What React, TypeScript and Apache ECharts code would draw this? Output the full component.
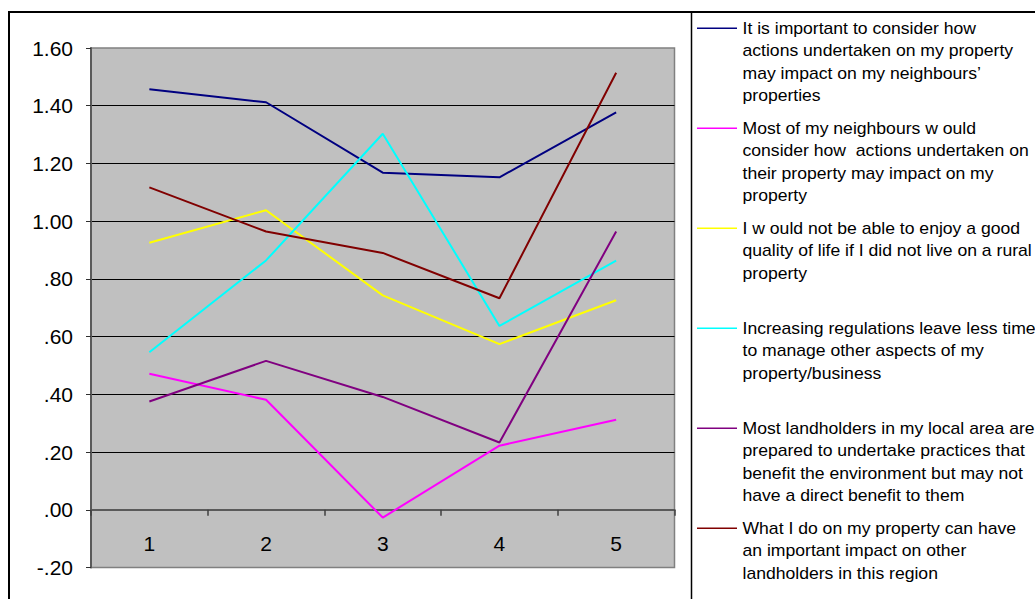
import React, { useEffect, useRef } from "react";
import * as echarts from "echarts";

// Survey statements: mean scores for each of the five groups
const categories = ["1", "2", "3", "4", "5"];

const seriesNames = [
  "It is important to consider how actions undertaken on my property may impact on my neighbours’ properties",
  "Most of my neighbours w ould consider how actions undertaken on their property may impact on my property",
  "I w ould not be able to enjoy a good quality of life if I did not live on a rural property",
  "Increasing regulations leave less time to manage other aspects of my property/business",
  "Most landholders in my local area are prepared to undertake practices that benefit the environment but may not have a direct benefit to them",
  "What I do on my property can have an important impact on other landholders in this region",
];

// Legend wording, broken into the lines that are drawn
const legendLines = [
  ["It is important to consider how", "actions undertaken on my property", "may impact on my neighbours’", "properties"],
  ["Most of my neighbours w ould", "consider how  actions undertaken on", "their property may impact on my", "property"],
  ["I w ould not be able to enjoy a good", "quality of life if I did not live on a rural", "property"],
  ["Increasing regulations leave less time", "to manage other aspects of my", "property/business"],
  ["Most landholders in my local area are", "prepared to undertake practices that", "benefit the environment but may not", "have a direct benefit to them"],
  ["What I do on my property can have", "an important impact on other", "landholders in this region"],
];

const considerImpactOnNeighbours = [1.457, 1.412, 1.168, 1.152, 1.377];
const neighboursConsiderImpact = [0.471, 0.381, -0.027, 0.222, 0.312];
const ruralQualityOfLife = [0.925, 1.038, 0.743, 0.574, 0.726];
const regulationsLeaveLessTime = [0.546, 0.864, 1.303, 0.637, 0.863];
const landholdersPreparedPractices = [0.375, 0.516, 0.391, 0.233, 0.964];
const importantImpactOnRegion = [1.117, 0.964, 0.89, 0.733, 1.514];

const seriesValues = [
  considerImpactOnNeighbours,
  neighboursConsiderImpact,
  ruralQualityOfLife,
  regulationsLeaveLessTime,
  landholdersPreparedPractices,
  importantImpactOnRegion,
];

const seriesColors = ["#000080", "#FF00FF", "#FFFF00", "#00FFFF", "#800080", "#800000"];

const FONT = "'Liberation Sans', Arial, Helvetica, sans-serif";

function formatTick(v: number): string {
  const r = Math.round(v * 100) / 100;
  let s = Math.abs(r).toFixed(2);
  if (s.startsWith("0")) s = s.slice(1);
  return r < 0 ? "-" + s : s;
}

export default function App() {
  const ref = useRef<HTMLDivElement>(null);

  useEffect(() => {
    document.body.style.margin = "0";
    if (!ref.current) return;
    const chart = echarts.init(ref.current, null, { renderer: "svg" });

    const legendGraphics: any[] = [];
    legendLines.forEach((lines, i) => {
      const y0 = 28.3 + i * 100;
      legendGraphics.push({
        type: "line",
        shape: { x1: 697, y1: y0, x2: 737, y2: y0 },
        style: { stroke: seriesColors[i], lineWidth: 1.5 },
        z: 10,
      });
      lines.forEach((line, k) => {
        legendGraphics.push({
          type: "text",
          x: 742.5,
          y: y0 + k * 22.6,
          scaleX: 1.1,
          style: {
            text: line,
            fill: "#000",
            font: `16px ${FONT}`,
            align: "left",
            verticalAlign: "middle",
          },
          z: 10,
        });
      });
    });

    chart.setOption({
      animation: false,
      backgroundColor: "#ffffff",
      textStyle: { fontFamily: FONT },
      grid: {
        left: 91,
        top: 48,
        right: 360.5,
        bottom: 31.5,
        outerBoundsMode: "none",
        show: true,
        backgroundColor: "#C0C0C0",
        borderColor: "#808080",
        borderWidth: 1.5,
      },
      xAxis: [
        {
          // axis line through zero, with ticks between groups
          type: "category",
          data: categories,
          boundaryGap: true,
          axisLine: { onZero: true, lineStyle: { color: "#5a5a5a", width: 2 } },
          axisTick: { show: true, length: 6, lineStyle: { color: "#404040", width: 1.5 } },
          axisLabel: { show: false },
          splitLine: { show: false },
        },
        {
          // group labels, set inside the plot area below the zero line
          type: "category",
          data: categories,
          boundaryGap: true,
          position: "bottom",
          axisLine: { show: false, onZero: false },
          axisTick: { show: false },
          axisLabel: { margin: -35, fontSize: 21, color: "#000", fontFamily: FONT },
          splitLine: { show: false },
        },
      ],
      yAxis: {
        type: "value",
        min: -0.2,
        max: 1.6,
        interval: 0.2,
        axisLine: { show: true, lineStyle: { color: "#5a5a5a", width: 2 } },
        axisTick: { show: true, length: 5, lineStyle: { color: "#303030", width: 1 } },
        axisLabel: {
          margin: 18,
          fontSize: 21,
          color: "#000",
          fontFamily: FONT,
          formatter: (v: number) => formatTick(v),
        },
        splitLine: {
          show: true,
          showMinLine: false,
          showMaxLine: false,
          lineStyle: { color: "#000", width: 1 },
        },
      },
      series: seriesValues.map((vals, i) => ({
        name: seriesNames[i],
        type: "line",
        xAxisIndex: 0,
        data: vals,
        symbol: "none",
        lineStyle: { color: seriesColors[i], width: 2 },
        itemStyle: { color: seriesColors[i] },
      })),
      graphic: [
        {
          type: "rect",
          shape: { x: 9, y: 12, width: 1200, height: 800 },
          style: { fill: "none", stroke: "#000", lineWidth: 2 },
          z: 10,
        },
        {
          type: "line",
          shape: { x1: 691.5, y1: 12, x2: 691.5, y2: 700 },
          style: { stroke: "#000", lineWidth: 1.5 },
          z: 10,
        },
        ...legendGraphics,
      ],
    });

    return () => {
      chart.dispose();
    };
  }, []);

  return <div ref={ref} style={{ width: 1035, height: 599 }} />;
}
